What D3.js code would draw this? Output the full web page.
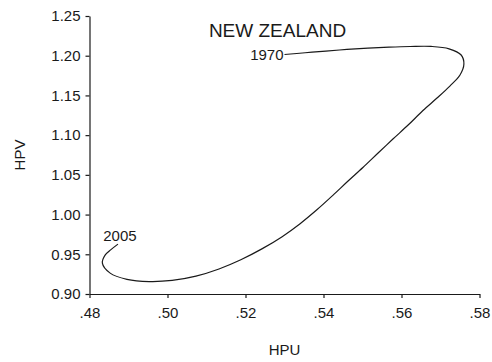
<!DOCTYPE html>
<html>
<head>
<meta charset="utf-8">
<script src="https://cdn.jsdelivr.net/npm/d3@7"></script>
<style>
  html, body { margin: 0; padding: 0; background: #fff; }
  svg { display: block; font-family: "Liberation Sans", Arial, sans-serif; }
</style>
</head>
<body>
<svg id="chart" width="492" height="362"></svg>
<script>
// HP-filtered trends for New Zealand, 1970–2005
const years = d3.range(1970, 2006);
const hpu = [
  0.5300, 0.5353, 0.5406, 0.5460, 0.5514, 0.5568, 0.5622, 0.5676, 0.5722, 0.5753,
  0.5760, 0.5750, 0.5724, 0.5691, 0.5655, 0.5617, 0.5578, 0.5540, 0.5501, 0.5463,
  0.5424, 0.5383, 0.5340, 0.5294, 0.5242, 0.5188, 0.5132, 0.5073, 0.5012, 0.4953,
  0.4896, 0.4853, 0.4833, 0.4840, 0.4855, 0.4873
];
const hpv = [
  1.2015, 1.2037, 1.2059, 1.2079, 1.2096, 1.2108, 1.2116, 1.2117, 1.2087, 1.2009,
  1.1895, 1.1757, 1.1618, 1.1467, 1.1310, 1.1127, 1.0951, 1.0775, 1.0592, 1.0422,
  1.0242, 1.0060, 0.9885, 0.9722, 0.9568, 0.9431, 0.9315, 0.9225, 0.9171, 0.9157,
  0.9185, 0.9263, 0.9389, 0.9490, 0.9559, 0.9628
];
const xTicks = [0.48, 0.50, 0.52, 0.54, 0.56, 0.58];
const yTicks = [0.90, 0.95, 1.00, 1.05, 1.10, 1.15, 1.20, 1.25];
const title = "NEW ZEALAND";
const xTitle = "HPU";
const yTitle = "HPV";

const svg = d3.select("#chart");
const plot = { left: 89.5, right: 479.5, top: 16, bottom: 294 };

const x = d3.scaleLinear().domain([0.48, 0.58]).range([plot.left, plot.right]);
const y = d3.scaleLinear().domain([0.90, 1.25]).range([plot.bottom, plot.top]);

const ink = "#1a1a1a";

// axes
const xAxis = svg.append("g")
  .attr("transform", `translate(0,${plot.bottom})`)
  .call(d3.axisBottom(x).tickValues(xTicks).tickSize(4).tickSizeOuter(0).tickPadding(9)
    .tickFormat(d => d3.format(".2f")(d).replace(/^0/, "")));
const yAxis = svg.append("g")
  .attr("transform", `translate(${plot.left},0)`)
  .call(d3.axisLeft(y).tickValues(yTicks).tickSize(4).tickSizeOuter(0).tickPadding(5)
    .tickFormat(d3.format(".2f")));

[xAxis, yAxis].forEach(g => {
  g.attr("font-family", null).attr("font-size", null);
  g.select(".domain").attr("stroke", ink).attr("stroke-width", 1.2);
  g.selectAll(".tick line").attr("stroke", ink).attr("stroke-width", 1.2);
  g.selectAll(".tick text").attr("fill", ink).style("font-size", "15px");
});

// trajectory
const line = d3.line()
  .x((d, i) => x(hpu[i]))
  .y((d, i) => y(hpv[i]))
  .curve(d3.curveCatmullRom.alpha(0.5));

svg.append("path")
  .datum(years)
  .attr("d", line)
  .attr("fill", "none")
  .attr("stroke", ink)
  .attr("stroke-width", 1.2);

// endpoint year labels
const n = years.length - 1;
svg.append("text")
  .attr("x", x(hpu[0]) - 1)
  .attr("y", y(hpv[0]) + 5.5)
  .attr("text-anchor", "end")
  .attr("fill", ink)
  .style("font-size", "15px")
  .text(years[0]);
svg.append("text")
  .attr("x", x(hpu[n]) + 2)
  .attr("y", y(hpv[n]) - 3)
  .attr("text-anchor", "middle")
  .attr("fill", ink)
  .style("font-size", "15px")
  .text(years[n]);

// titles
svg.append("text")
  .attr("x", 277.5)
  .attr("y", 36.7)
  .attr("text-anchor", "middle")
  .attr("fill", ink)
  .style("font-size", "19px")
  .text(title);

svg.append("text")
  .attr("x", (plot.left + plot.right) / 2)
  .attr("y", 355)
  .attr("text-anchor", "middle")
  .attr("fill", ink)
  .style("font-size", "15px")
  .text(xTitle);

svg.append("text")
  .attr("transform", `translate(25,${(plot.top + plot.bottom) / 2}) rotate(-90)`)
  .attr("text-anchor", "middle")
  .attr("fill", ink)
  .style("font-size", "15px")
  .text(yTitle);
</script>
</body>
</html>
